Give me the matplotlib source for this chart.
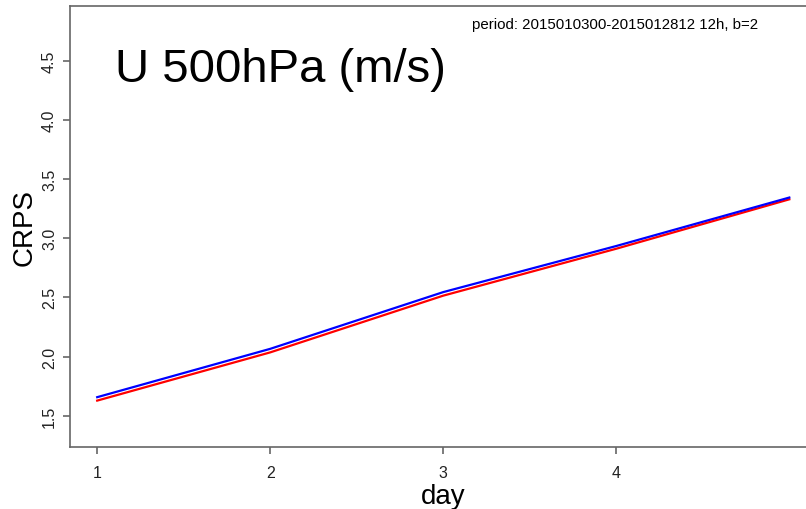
import matplotlib.pyplot as plt
import numpy as np

plt.rcParams['font.family'] = ['Liberation Sans', 'DejaVu Sans']

# CRPS of U 500hPa against forecast day
days = [1, 2, 3, 4, 5]
crps_blue = [1.656, 2.065, 2.545, 2.935, 3.345]
crps_red = [1.627, 2.035, 2.515, 2.912, 3.330]
x_ticks = [1, 2, 3, 4]
y_ticks = [1.5, 2.0, 2.5, 3.0, 3.5, 4.0, 4.5]

W, H = 806, 510
fig = plt.figure(figsize=(W/100, H/100), dpi=100)
left, right, top, bottom = 69.5, 817, 6.7, 448.3
ax = fig.add_axes([left/W, 1 - bottom/H, (right-left)/W, (bottom-top)/H])

ax.plot(days, crps_red, color='#ff0000', lw=1.6)
ax.plot(days, crps_blue, color='#0000ff', lw=1.6)

ax.set_xlim(0.84, 5.16)
ax.set_ylim(1.232, 4.968)
ax.set_xticks(x_ticks)
ax.set_yticks(y_ticks)
ax.set_xticklabels([str(t) for t in x_ticks])
ax.set_yticklabels(['%.1f' % t for t in y_ticks], rotation=90, va='center')

for s in ax.spines.values():
    s.set_color('#666666')
    s.set_linewidth(1.2)
ax.tick_params(axis='both', length=5, width=1.2, color='#666666',
               labelsize=11.5, labelcolor='#222222')
ax.tick_params(axis='x', pad=8)
ax.tick_params(axis='y', pad=4)

ax.set_xlabel('day', fontsize=20, labelpad=2)
ax.set_ylabel('CRPS', fontsize=20, labelpad=3)

fig.text(115/W, 1 - 82/H, 'U 500hPa (m/s)', fontsize=34, va='baseline', ha='left')
fig.text(472/W, 1 - 29/H, 'period: 2015010300-2015012812 12h, b=2', fontsize=10.8,
         va='baseline', ha='left')

fig.savefig('out.png', dpi=100)
